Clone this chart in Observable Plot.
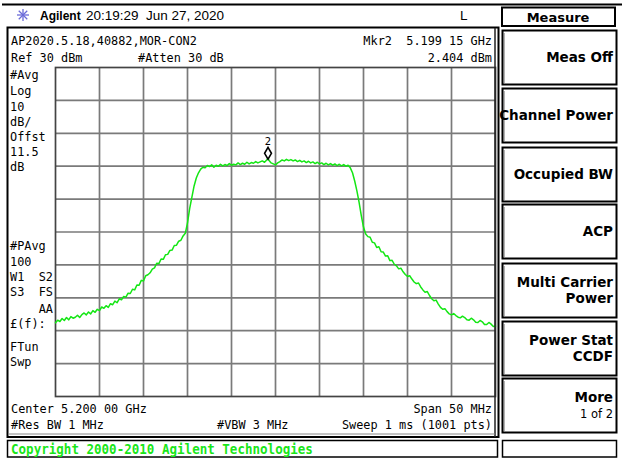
<!DOCTYPE html>
<html><head><meta charset="utf-8">
<script src="https://cdn.jsdelivr.net/npm/d3@7"></script>
<script src="https://cdn.jsdelivr.net/npm/@observablehq/plot@0.6"></script>
<style>html,body{margin:0;padding:0;background:#fff} svg{display:block}</style>
</head><body><div id="chart"></div>
<script>
// ---- data (spectrum analyzer trace, MHz / dBm) ----
const freqMHz = [
 5175.00,5175.25,5175.50,5175.75,5176.00,5176.25,5176.50,5176.75,5177.00,5177.25,
 5177.50,5177.75,5178.00,5178.25,5178.50,5178.75,5179.00,5179.25,5179.50,5179.75,
 5180.00,5180.25,5180.50,5180.75,5181.00,5181.25,5181.50,5181.75,5182.00,5182.25,
 5182.50,5182.75,5183.00,5183.25,5183.50,5183.75,5184.00,5184.25,5184.50,5184.75,
 5185.00,5185.25,5185.50,5185.75,5186.00,5186.25,5186.50,5186.75,5187.00,5187.25,
 5187.50,5187.75,5188.00,5188.25,5188.50,5188.75,5189.00,5189.25,5189.50,5189.75,
 5190.00,5190.25,5190.50,5190.75,5191.00,5191.25,5191.50,5191.75,5192.00,5192.25,
 5192.50,5192.75,5193.00,5193.25,5193.50,5193.75,5194.00,5194.25,5194.50,5194.75,
 5195.00,5195.25,5195.50,5195.75,5196.00,5196.25,5196.50,5196.75,5197.00,5197.25,
 5197.50,5197.75,5198.00,5198.25,5198.50,5198.75,5199.00,5199.15,5199.25,5199.50,
 5199.75,5200.00,5200.25,5200.50,5200.75,5201.00,5201.25,5201.50,5201.75,5202.00,
 5202.25,5202.50,5202.75,5203.00,5203.25,5203.50,5203.75,5204.00,5204.25,5204.50,
 5204.75,5205.00,5205.25,5205.50,5205.75,5206.00,5206.25,5206.50,5206.75,5207.00,
 5207.25,5207.50,5207.75,5208.00,5208.25,5208.50,5208.75,5209.00,5209.25,5209.50,
 5209.75,5210.00,5210.25,5210.50,5210.75,5211.00,5211.25,5211.50,5211.75,5212.00,
 5212.25,5212.50,5212.75,5213.00,5213.25,5213.50,5213.75,5214.00,5214.25,5214.50,
 5214.75,5215.00,5215.25,5215.50,5215.75,5216.00,5216.25,5216.50,5216.75,5217.00,
 5217.25,5217.50,5217.75,5218.00,5218.25,5218.50,5218.75,5219.00,5219.25,5219.50,
 5219.75,5220.00,5220.25,5220.50,5220.75,5221.00,5221.25,5221.50,5221.75,5222.00,
 5222.25,5222.50,5222.75,5223.00,5223.25,5223.50,5223.75,5224.00,5224.25,5224.50,
 5224.75,5225.00
];
const levelDbm = [
 -47.6,-46.8,-47.2,-46.3,-46.9,-46.0,-46.7,-45.7,-46.2,-45.9,
 -45.3,-46.0,-45.1,-44.6,-45.2,-44.3,-44.9,-43.9,-44.4,-43.5,
 -43.9,-42.8,-43.2,-42.4,-42.9,-41.8,-42.1,-41.0,-41.5,-40.3,
 -40.6,-39.6,-39.8,-38.6,-38.7,-37.4,-37.6,-36.1,-36.2,-34.7,
 -34.9,-33.3,-33.0,-32.4,-31.3,-30.9,-29.5,-29.6,-28.2,-28.3,
 -26.9,-26.8,-25.6,-25.5,-24.1,-24.0,-22.8,-22.5,-21.2,-20.4,
 -17.2,-12.8,-9.4,-6.0,-3.6,-2.0,-0.9,-0.3,-0.5,0.2,
 -0.1,0.4,-0.3,0.3,0.0,0.6,0.1,0.5,0.2,0.8,
 0.3,0.6,0.4,1.0,0.5,0.9,0.6,1.2,0.7,1.1,
 0.9,1.4,1.0,1.3,1.6,1.2,1.9,2.404,1.8,1.0,
 0.7,0.4,1.0,1.4,1.9,1.6,2.1,1.7,2.0,1.6,
 1.9,1.4,1.8,1.3,1.6,1.1,1.5,1.0,1.3,0.8,
 1.2,0.7,1.0,0.5,0.9,0.4,0.8,0.3,0.7,0.2,
 0.6,0.1,0.5,0.0,0.3,-0.5,-2.0,-4.5,-7.5,-11.0,
 -15.0,-18.5,-20.6,-21.4,-21.6,-23.1,-23.3,-24.7,-24.5,-26.0,
 -26.1,-27.3,-27.2,-28.7,-28.6,-29.8,-30.3,-31.2,-31.0,-32.1,
 -32.9,-33.5,-33.3,-34.3,-35.2,-35.7,-35.5,-36.7,-37.6,-38.3,
 -38.1,-39.3,-40.3,-40.9,-40.7,-41.9,-42.9,-43.5,-43.3,-44.2,
 -44.9,-45.2,-44.8,-45.4,-45.9,-46.1,-45.6,-46.0,-46.7,-46.8,
 -46.2,-46.7,-47.4,-47.5,-46.9,-47.3,-48.1,-48.1,-47.5,-48.0,
 -48.7,-48.6
];
const xGridMHz = [5175,5180,5185,5190,5195,5200,5205,5210,5215,5220,5225];
const yGridDbm = [30,20,10,0,-10,-20,-30,-40,-50,-60,-70];
const markerName = ["2"];
const markerFreq = [5199.15];
const markerLevel = [2.404];

const headerTime = "20:19:29  Jun 27, 2020";
const topLeftLines = ["AP2020.5.18,40882,MOR-CON2", "Ref 30 dBm"];
const attenText = "#Atten 30 dB";
const markerReadout = ["Mkr2  5.199 15 GHz", "2.404 dBm"];
const sideLabels = ["#Avg","Log","10","dB/","Offst","11.5","dB","#PAvg","100","W1","S3","£(f):","FTun","Swp"];
const sideRight = ["S2","FS","AA"];
const bottomLeft = ["Center 5.200 00 GHz", "#Res BW 1 MHz"];
const bottomMid = "#VBW 3 MHz";
const bottomRight = ["Span 50 MHz", "Sweep 1 ms (1001 pts)"];
const softkeyTitle = "Measure";
const softkeys = [["Meas Off"],["Channel Power"],["Occupied BW"],["ACP"],["Multi Carrier","Power"],["Power Stat","CCDF"],["More","1 of 2"]];
const copyright = "Copyright 2000-2010 Agilent Technologies";

// ---- chart ----
const trace = freqMHz.map((f, i) => ({f, v: levelDbm[i]}));
const markers = markerName.map((n, i) => ({n, f: markerFreq[i], v: markerLevel[i]}));

const svgNode = Plot.plot({
  width: 627, height: 459,
  marginLeft: 55, marginRight: 132, marginTop: 67, marginBottom: 63,
  x: {domain: [5175, 5225], axis: null},
  y: {domain: [-70, 30], axis: null},
  style: {background: "white", overflow: "visible"},
  marks: [
    Plot.ruleX(xGridMHz.slice(1, -1), {stroke: "#7a7a7a", strokeWidth: 1.7}),
    Plot.ruleY(yGridDbm.slice(1, -1), {stroke: "#7a7a7a", strokeWidth: 1.7}),
    Plot.frame({stroke: "#444", strokeWidth: 1.7}),
    Plot.line(trace, {x: "f", y: "v", stroke: "#14e614", strokeWidth: 1.5}),
    Plot.dot(markers, {x: "f", y: "v", symbol: "diamond", r: 3.6, stroke: "black", fill: "white", strokeWidth: 1.6, dy: -5}),
    Plot.text(markers, {x: "f", y: "v", text: "n", dy: -16, fontSize: 10, fill: "black", fontFamily: "DejaVu Sans"})
  ]
});
document.getElementById("chart").appendChild(svgNode);

// ---- instrument screen chrome ----
const svg = d3.select(svgNode);
const g = svg.append("g").attr("text-anchor", "start");
const MONO = "DejaVu Sans Mono";
function mono(txt, x, y, anchor = "start", opts = {}) {
  const sx = opts.sx || 0.95;
  return g.append("text")
    .attr("transform", `translate(${x},${y}) scale(${sx},1)`)
    .attr("text-anchor", anchor)
    .attr("font-family", opts.family || MONO)
    .attr("font-size", opts.size || 12.5)
    .attr("font-weight", opts.weight || "normal")
    .attr("fill", opts.fill || "black")
    .style("white-space", "pre")
    .text(txt);
}
function label(txt, x, y, anchor, size, weight, family) {
  return g.append("text").attr("x", x).attr("y", y).attr("text-anchor", anchor)
    .attr("font-family", family).attr("font-size", size).attr("font-weight", weight)
    .attr("fill", "black").style("white-space", "pre").text(txt);
}
function rect(x, y, w, h, sw = 2, stroke = "black") {
  g.append("rect").attr("x", x).attr("y", y).attr("width", w).attr("height", h)
    .attr("fill", "none").attr("stroke", stroke).attr("stroke-width", sw);
}
function line(x1, y1, x2, y2, sw = 2, stroke = "black") {
  g.append("line").attr("x1", x1).attr("y1", y1).attr("x2", x2).attr("y2", y2)
    .attr("stroke", stroke).attr("stroke-width", sw);
}

// top rule
line(2, 4.5, 622, 4.5, 2);
// asterisk icon
[0, 45, 90, 135].forEach(a => {
  const r = 6, rad = a * Math.PI / 180;
  line(23 - r * Math.cos(rad), 15 - r * Math.sin(rad), 23 + r * Math.cos(rad), 15 + r * Math.sin(rad), 1.3, "#6b6bd8");
});
label("Agilent", 40, 20, "start", 12, "bold", "Liberation Sans");
label(headerTime, 86, 20, "start", 13.5, "normal", "Liberation Sans");
label("L", 460, 20, "start", 13.5, "normal", "Liberation Sans");

// Measure title box
rect(502, 7.5, 113, 18.5, 2);
label(softkeyTitle, 558, 21.5, "middle", 13, "bold", "DejaVu Sans");

// main screen frame
rect(7.5, 27.5, 491, 409.5, 2);
line(495, 28, 495, 437, 1.5, "#222");
line(8, 434, 495, 434, 1, "#888");

// screen texts
mono(topLeftLines[0], 11, 45);
mono(topLeftLines[1], 11, 62);
mono(attenText, 138, 62);
mono(markerReadout[0], 492, 45, "end");
mono(markerReadout[1], 492, 62, "end");
const sideY = [79, 95, 111, 126, 141, 156, 171, 250, 266, 281, 296, 328, 351, 366];
sideLabels.forEach((t, i) => mono(t, 10, sideY[i]));
const sideRY = [281, 296, 313];
sideRight.forEach((t, i) => mono(t, 53, sideRY[i], "end"));
mono(bottomLeft[0], 11, 413);
mono(bottomLeft[1], 11, 429);
mono(bottomMid, 217, 429);
mono(bottomRight[0], 492, 413, "end");
mono(bottomRight[1], 492, 429, "end");

// copyright bar
rect(7.5, 440.5, 490, 16.5, 1.5);
mono(copyright, 11, 454, "start", {weight: "bold", fill: "#19e619", size: 13.5, sx: 0.93});

// softkeys
const keyTop = [30, 88, 147, 204, 263, 321, 378];
softkeys.forEach((lines, i) => {
  const top = keyTop[i];
  rect(502.5, top + 0.5, 114, 54, 2);
  line(504, top + 3, 504, top + 53, 1, "#666");
  if (lines.length === 1) {
    label(lines[0], 613, top + 32, "end", 13.5, "bold", "DejaVu Sans");
  } else {
    label(lines[0], 613, top + 24, "end", 13.5, "bold", "DejaVu Sans");
    if (i === softkeys.length - 1) label(lines[1], 613, top + 40, "end", 11.5, "normal", "DejaVu Sans");
    else label(lines[1], 613, top + 40, "end", 13.5, "bold", "DejaVu Sans");
  }
});
rect(502.5, 440.5, 114, 16.5, 1.5);
</script>
</body></html>
